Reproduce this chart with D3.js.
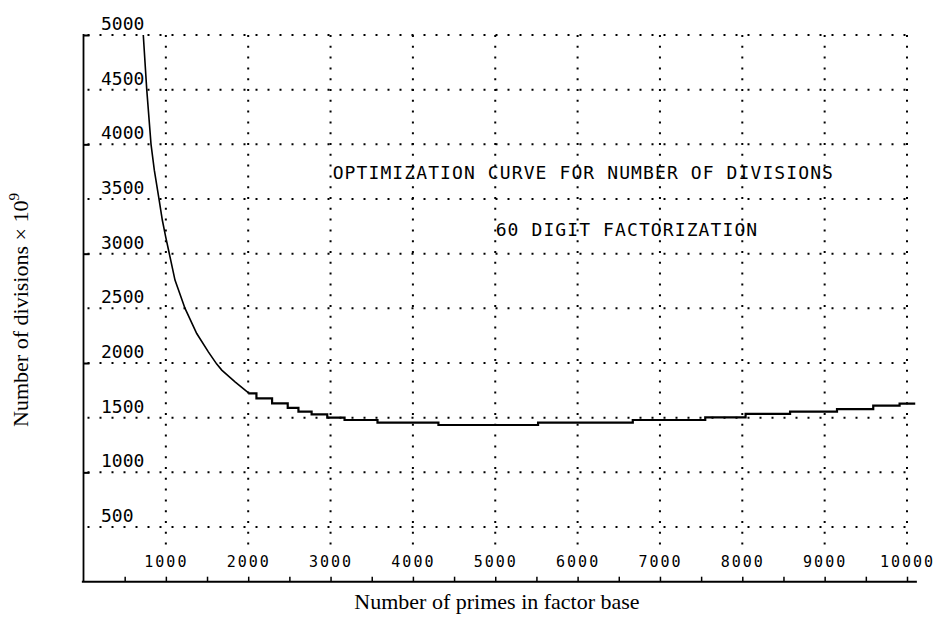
<!DOCTYPE html>
<html>
<head>
<meta charset="utf-8">
<script src="https://cdn.jsdelivr.net/npm/d3@7"></script>
<style>
  body { margin: 0; background: #fff; }
</style>
</head>
<body>
<script>
// data: steep part (smooth) and flat part (plotter steps)
var steepPrimes = [726, 768, 820, 860, 917, 957, 998, 1039, 1111, 1233, 1375, 1516, 1618, 1679, 1840, 2000];
var steepDivs   = [5000, 4500, 4000, 3764, 3500, 3308, 3154, 3011, 2758, 2499, 2270, 2102, 1990, 1935, 1828, 1730];

var stepPrimes = [2000, 2100, 2290, 2480, 2610, 2770, 2960, 3170, 3570, 4310, 5520, 6670, 7550, 8040, 8580, 9150, 9590, 9910, 10100];
var stepDivs   = [1723, 1677, 1631, 1590, 1555, 1531, 1500, 1479, 1454, 1433, 1454, 1479, 1503, 1534, 1555, 1579, 1610, 1628, 1628];

var xTicks = [500, 1000, 1500, 2000, 2500, 3000, 3500, 4000, 4500, 5000, 5500, 6000, 6500, 7000, 7500, 8000, 8500, 9000, 9500, 10000];
var xLabels = [1000, 2000, 3000, 4000, 5000, 6000, 7000, 8000, 9000, 10000];
var yLabels = [500, 1000, 1500, 2000, 2500, 3000, 3500, 4000, 4500, 5000];
var yTicks = [1000, 2000, 3000, 4000, 5000];

var titleLines = ["OPTIMIZATION CURVE FOR NUMBER OF DIVISIONS", "60 DIGIT FACTORIZATION"];

//画布
var width = 938, height = 623;
var svg = d3.select("body").append("svg")
  .attr("width", width)
  .attr("height", height);

var x = d3.scaleLinear().domain([0, 10000]).range([83.5, 907]);
var y = d3.scaleLinear().domain([0, 5000]).range([581.7, 35]);

var mono = "'DejaVu Sans Mono', monospace";
var serif = "'Liberation Serif', 'Times New Roman', serif";

// dotted grid
svg.append("g").selectAll("line")
  .data(yLabels)
  .enter().append("line")
  .attr("x1", x(0) + 4).attr("x2", x(10000))
  .attr("y1", function(d){ return y(d); })
  .attr("y2", function(d){ return y(d); })
  .attr("stroke", "#000").attr("stroke-width", 2)
  .attr("stroke-dasharray", "2 10");

svg.append("g").selectAll("line")
  .data(xLabels)
  .enter().append("line")
  .attr("x1", function(d){ return x(d); })
  .attr("x2", function(d){ return x(d); })
  .attr("y1", y(5000)).attr("y2", y(300))
  .attr("stroke", "#000").attr("stroke-width", 2)
  .attr("stroke-dasharray", "2 8.8");

// x axis (ticks up, labels above the line)
var xAxis = d3.axisTop(x)
  .tickValues(xTicks)
  .tickSize(5)
  .tickSizeOuter(0)
  .tickPadding(10)
  .tickFormat(function(d){ return xLabels.indexOf(d) >= 0 ? d : ""; });

var gx = svg.append("g")
  .attr("transform", "translate(0," + y(0) + ")")
  .call(xAxis);
gx.select(".domain").remove();
gx.selectAll(".tick line").attr("stroke", "#000").attr("stroke-width", 1.5);
gx.selectAll(".tick text")
  .attr("font-family", mono).attr("font-size", 15)
  .attr("letter-spacing", 2).attr("fill", "#000");
gx.append("line")
  .attr("x1", x(-20)).attr("x2", x(10120))
  .attr("stroke", "#000").attr("stroke-width", 2);

// y axis (inner ticks only)
var yAxis = d3.axisRight(y).tickValues(yTicks).tickSize(6).tickSizeOuter(0).tickFormat("");
var gy = svg.append("g")
  .attr("transform", "translate(" + x(0) + ",0)")
  .call(yAxis);
gy.select(".domain").remove();
gy.selectAll(".tick line").attr("stroke", "#000").attr("stroke-width", 2);
gy.append("line")
  .attr("y1", y(5000) - 1).attr("y2", y(0))
  .attr("stroke", "#000").attr("stroke-width", 1.8);

svg.append("g").selectAll("text")
  .data(yLabels)
  .enter().append("text")
  .attr("x", 101)
  .attr("y", function(d){ return y(d) - 5; })
  .attr("font-family", mono).attr("font-size", 18)
  .attr("fill", "#000")
  .text(function(d){ return d; });

// curve
var smooth = d3.line()
  .x(function(d){ return x(d[0]); })
  .y(function(d){ return y(d[1]); });
var stepped = d3.line()
  .curve(d3.curveStepAfter)
  .x(function(d){ return x(d[0]); })
  .y(function(d){ return y(d[1]); });

svg.append("path")
  .datum(d3.zip(steepPrimes, steepDivs))
  .attr("d", smooth)
  .attr("fill", "none").attr("stroke", "#000").attr("stroke-width", 1.6);

svg.append("path")
  .datum(d3.zip(stepPrimes, stepDivs))
  .attr("d", stepped)
  .attr("fill", "none").attr("stroke", "#000").attr("stroke-width", 2.2);

// title inside plot
svg.append("text")
  .attr("x", x(6070)).attr("y", y(3683))
  .attr("text-anchor", "middle")
  .attr("font-family", mono).attr("font-size", 18)
  .attr("letter-spacing", 1.1).attr("fill", "#000")
  .text(titleLines[0]);
svg.append("text")
  .attr("x", x(6600)).attr("y", y(3162))
  .attr("text-anchor", "middle")
  .attr("font-family", mono).attr("font-size", 18)
  .attr("letter-spacing", 1.1).attr("fill", "#000")
  .text(titleLines[1]);

// axis titles
svg.append("text")
  .attr("x", 497).attr("y", 609)
  .attr("text-anchor", "middle")
  .attr("font-family", serif).attr("font-size", 22)
  .attr("fill", "#000")
  .text("Number of primes in factor base");

var yt = svg.append("text")
  .attr("transform", "translate(28,310) rotate(-90)")
  .attr("text-anchor", "middle")
  .attr("font-family", serif).attr("font-size", 22)
  .attr("fill", "#000");
yt.append("tspan").text("Number of divisions × 10");
yt.append("tspan").attr("dy", -9).attr("font-size", 15).text("9");
</script>
</body>
</html>
